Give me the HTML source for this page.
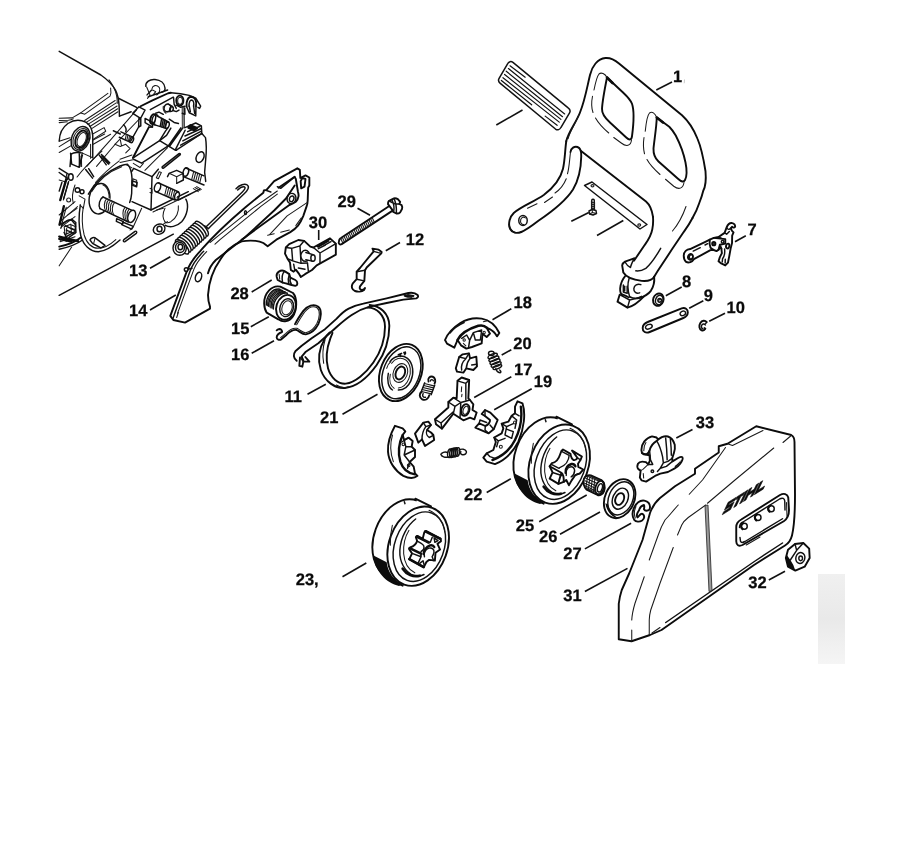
<!DOCTYPE html>
<html><head><meta charset="utf-8"><title>Parts diagram</title>
<style>
html,body{margin:0;padding:0;background:#fff;}
body{width:924px;height:844px;overflow:hidden;font-family:"Liberation Sans",sans-serif;}
svg{display:block;position:absolute;left:0;top:0;will-change:transform;}
svg *{vector-effect:non-scaling-stroke;}
.k{fill:none;stroke:#0c0c0c;stroke-width:1.9;stroke-linecap:round;stroke-linejoin:round;}
.m{fill:none;stroke:#111;stroke-width:1.45;stroke-linecap:round;stroke-linejoin:round;}
.t{fill:none;stroke:#1a1a1a;stroke-width:1.05;stroke-linecap:round;stroke-linejoin:round;}
.w{fill:#fff;}
.b{fill:#0c0c0c;}
.ld{fill:none;stroke:#111;stroke-width:1.6;stroke-linecap:butt;}
text{text-rendering:geometricPrecision;font-family:"Liberation Sans",sans-serif;font-weight:bold;font-size:16.5px;fill:#0a0a0a;stroke:#0a0a0a;stroke-width:0.25;text-anchor:middle;}
</style></head><body>
<svg width="924" height="844" viewBox="0 0 924 844">
<rect x="0" y="0" width="924" height="844" fill="#fff"/>
<!-- hand guard upper (tile 480,40 x4) -->
<g transform="translate(480,40) scale(0.25)">
<!-- outer outline -->
<path class="k" d="M345,405 C352,370 385,330 400,290 C420,240 428,190 440,140 C448,105 470,75 502,72 C525,70 542,82 556,94 L808,301 C840,330 860,370 870,395 C885,430 895,480 902,525 C905,560 900,590 893,603 C888,625 882,640 876,655 C868,680 860,695 850,712"/>
<!-- arm left edge -->
<path class="k" d="M345,405 C340,440 340,480 332,515 C322,555 295,590 255,620 C215,648 165,665 135,692 C118,708 112,735 120,755 C128,772 148,774 165,768"/>
<!-- arm right edge -->
<path class="k" d="M362,448 C364,432 378,424 390,428 C402,432 406,445 405,465 C404,520 395,560 372,598 C345,640 290,685 235,722 C205,745 185,760 165,768"/>
<path class="k" d="M403,443 L664,646 C678,658 688,680 692,707"/>
<!-- arm highlights -->
<path class="t" d="M362,448 C358,480 357,510 350,535"/>
<path class="t" d="M345,555 C335,580 318,600 300,612"/>
<path class="t" d="M290,628 L258,650 M228,655 L190,673"/>
<path class="m" d="M116,738 C118,752 126,764 140,770"/>
<!-- arm hole -->
<ellipse class="m" cx="172" cy="722" rx="17" ry="20"/>
<path class="t" d="M182,712 C176,706 166,708 163,718 C160,730 166,740 176,738"/>
<!-- window 1 inner bold -->
<path class="k" d="M508,150 C500,190 490,240 488,275 C487,295 500,312 520,330 L585,390 C598,402 606,400 608,385 C614,340 620,290 608,255 C600,235 585,222 570,208 Z"/>
<path class="k" d="M508,150 L530,172" style="stroke-width:2.6"/>
<!-- window 1 outer thin -->
<path class="t" d="M508,150 C500,135 485,128 476,136 C468,145 462,170 456,200"/>
<path class="t" d="M450,225 C446,245 445,270 452,290"/>
<path class="t" d="M462,312 C475,335 495,355 515,372"/>
<path class="t" d="M535,390 L565,412 C585,428 603,425 606,400"/>
<!-- window 2 inner bold -->
<path class="k" d="M707,310 C706,350 697,400 694,434 C693,460 702,475 714,486 L792,555 C806,568 815,570 820,560 C828,545 828,520 822,490 C815,455 800,415 783,382 C775,368 765,355 757,347 Z"/>
<path class="k" d="M707,310 L732,330" style="stroke-width:2.6"/>
<!-- window 2 outer thin -->
<path class="t" d="M707,310 C700,292 688,285 678,292 C668,302 664,335 661,365"/>
<path class="t" d="M656,390 C653,410 653,435 658,455"/>
<path class="t" d="M668,478 C680,500 700,520 720,538"/>
<path class="t" d="M742,557 L775,585 C795,600 812,595 816,570"/>
<!-- frame highlights -->
<path class="t" d="M824,666 C812,700 795,735 770,764"/>
<path class="t" d="M395,300 C380,335 360,365 352,395"/>
<!-- plate -->
<path class="m w" d="M418,582 L448,568 L668,738 L640,756 Z"/>
<ellipse class="t" cx="450" cy="583" rx="6" ry="4.5"/>
<ellipse class="t" cx="637" cy="740" rx="6" ry="4.5"/>
<!-- screw -->
<path class="m" d="M447,640 L447,678 M457,640 L457,678 M447,640 C449,636 455,636 457,640"/>
<path class="t" d="M445,648 L459,652 M445,656 L459,660 M445,664 L459,668 M445,672 L459,676"/>
<path class="m w" d="M436,684 L448,678 L464,682 L466,694 L452,700 L438,696 Z"/>
<path class="t" d="M448,678 L450,690 L466,694 M450,690 L438,696"/>
</g>
<!-- pad (tile 490,55 x9.24) -->
<g transform="translate(490,55) scale(0.108225)">
<path class="m w" d="M165,78 C175,60 195,56 212,68 L722,488 C740,502 745,518 735,535 L655,670 C645,690 625,698 605,684 L95,262 C78,248 74,232 84,215 Z" style="stroke-width:1.5"/>
<path class="m" d="M185,100 L325,205 M170,125 L690,545 M150,150 L670,570 M135,180 L655,595 M120,210 L640,620 M105,235 L385,460 M510,565 L620,650" style="stroke-width:1.2"/>
</g>
<!-- hand guard lower + parts 7-10 (tile 600,210 x6) -->
<g transform="translate(600,210) scale(0.166667)">
<!-- guard lower edges -->
<path class="k" d="M318,41 C320,70 318,95 314,115 C308,150 290,180 269,209 L204,304"/>
<path class="k" d="M555,48 C540,78 522,105 503,131 L432,236 L347,365 L325,400"/>

<path class="m" d="M364,230 C335,280 305,325 275,350 C255,362 235,368 215,365"/>
<!-- collar -->
<path class="k" d="M205,290 L150,310 C140,316 134,322 133,332 L140,375 C155,400 195,418 250,425 C285,428 315,418 325,400"/>
<path class="m" d="M205,290 C195,310 185,330 183,345 M150,312 C160,330 175,342 183,345"/>
<!-- knuckle -->
<path class="k" d="M150,398 C135,415 124,440 121,470 C120,490 125,505 135,512"/>
<path class="k" d="M325,400 C328,430 322,460 305,485 C290,505 265,520 235,528 C215,532 195,530 180,522"/>
<path class="m" d="M175,410 C165,440 165,480 178,520"/>
<path class="m" d="M140,450 L140,492 L163,500 L163,458"/>
<path class="m" d="M148,458 L148,486"/>
<path class="m" d="M245,448 C225,440 205,452 203,472 C201,492 218,504 238,497"/>
<path class="k" d="M118,508 L105,550 L165,586 C190,580 225,560 262,520"/>
<path class="m" d="M118,508 L178,540 L165,586 M178,540 C205,536 230,528 250,518"/>
<path class="b" d="M128,498 L160,512 L178,522 L172,530 L140,515 Z"/>
<!-- part 8 washer -->
<ellipse class="k w" cx="350" cy="538" rx="31" ry="38" transform="rotate(20 350 538)"/>
<ellipse class="m" cx="356" cy="540" rx="22" ry="29" transform="rotate(20 356 540)"/>
<circle class="m" cx="358" cy="542" r="11"/>
<path class="t" d="M364,536 C358,532 352,538 353,546"/>
<!-- part 9 link -->
<path class="k w" d="M286,672 L490,590 C510,583 528,595 527,615 C526,632 515,642 500,648 L298,732 C275,742 255,730 256,708 C257,690 270,678 286,672 Z"/>
<ellipse class="m" cx="293" cy="700" rx="21" ry="13" transform="rotate(-22 293 700)"/>
<ellipse class="m" cx="497" cy="620" rx="17" ry="13" transform="rotate(-22 497 620)"/>
<!-- part 10 e-clip -->
<path class="k" d="M640,672 C630,660 612,662 602,678 C592,695 595,715 610,722 C620,726 628,720 632,712"/>
<path class="m" d="M632,690 C626,680 615,682 610,692 C606,702 610,712 618,712"/>
<path class="m" d="M640,672 L634,682 M632,712 L626,706"/>
</g>
<!-- part 7 (tile 678,218 x14.8) -->
<g transform="translate(678,218) scale(0.06754)">
<path class="k w" d="M85,560 C85,500 130,465 180,460 L420,345 L470,320 L530,295 L600,282 L690,220 L720,140 C735,100 770,72 800,75 C830,80 850,105 845,130 C835,148 815,145 800,130 L780,152 L800,190 L822,212 L802,262 L800,370 L780,450 L760,560 L740,660 L700,702 L640,672 L600,640 L620,580 L650,520 L642,452 L620,440 L600,470 L570,490 L520,470 L480,476 L235,610 C210,650 160,672 120,650 C95,630 85,600 85,560 Z"/>
<path class="k" d="M470,320 C465,350 468,400 482,440 L520,470 M530,295 L700,312 L700,380 L620,396 L600,470 M620,396 L642,452"/>
<path class="m" d="M600,282 L640,300 M720,140 C735,170 760,180 780,152 M690,220 L720,240 L760,200"/>
<ellipse class="k" cx="185" cy="575" rx="36" ry="42" transform="rotate(20 185 575)"/>
<path class="m" d="M200,545 C180,540 165,560 168,585 C170,600 180,610 195,608"/>
<path class="m" d="M225,490 L330,440 M400,400 L440,380"/>
<circle class="k" cx="530" cy="380" r="24"/>
<circle class="t" cx="532" cy="382" r="12"/>
<circle class="m" cx="660" cy="350" r="19"/>
<ellipse class="k" cx="736" cy="415" rx="24" ry="36" transform="rotate(15 736 415)"/>
<path class="m" d="M690,460 C695,500 690,560 662,600 M660,600 L655,650 M700,610 L698,665"/>
</g>
<!-- engine block upper-left: fins, port (tile 50,75 x9.24) -->
<g transform="translate(50,75) scale(0.108225)">
<path class="m" d="M85,-219 L470,0 C520,35 575,85 605,140 C625,180 635,230 638,280 L642,380"/>
<path class="t" d="M545,45 C580,90 605,140 615,190 C620,215 622,240 622,260"/>
<path class="t" d="M285,350 L322,362 L555,195 C565,175 565,150 560,120"/>
<path class="t" d="M205,396 L290,346 L535,170"/>
<path class="t" d="M320,420 L602,236"/>
<path class="t" d="M335,438 L612,258"/>
<path class="t" d="M350,456 L620,286"/>
<path class="t" d="M368,476 L625,312"/>
<path class="t" d="M385,496 L628,340"/>
<path class="t" d="M395,545 L500,486 L515,520 L405,590"/>
<path class="t" d="M398,600 L505,545 M400,640 L560,548"/>
<path class="t" d="M85,400 L200,396 M85,420 L170,418 C190,416 205,410 215,404 M85,440 L160,432"/>
<path class="m" d="M642,380 L750,340 M632,215 L800,300"/>
<!-- port boss -->
<path class="m" d="M85,610 C88,540 120,480 165,448 C215,415 280,410 330,435 C365,455 390,495 395,560 L395,765"/>
<path class="t" d="M375,640 L375,770 M395,765 L300,722"/>
<ellipse class="m" cx="282" cy="590" rx="82" ry="118" transform="rotate(22 282 590)"/>
<ellipse class="t" cx="285" cy="592" rx="68" ry="102" transform="rotate(22 285 592)"/>
<ellipse class="k" cx="290" cy="594" rx="52" ry="84" transform="rotate(22 290 594)"/>
<ellipse class="t" cx="293" cy="596" rx="38" ry="68" transform="rotate(22 293 596)"/>
<path class="t" d="M85,612 L185,580 M85,662 L198,592 M85,716 L192,655"/>
<path class="m" d="M195,730 L185,845 M270,722 L276,845 M195,730 C220,715 270,712 300,722"/>
<path class="t" d="M290,735 L292,845"/>
<!-- long rim diagonals -->
<path class="t" d="M340,845 L560,600 L800,322"/>
<path class="t" d="M430,845 L600,642 L830,402"/>
<path class="m" d="M455,740 L520,830 M475,735 L545,820"/>
<!-- small stud -->
<path class="m" d="M655,525 L760,572 M640,575 L745,622"/>
<ellipse class="m" cx="755" cy="598" rx="16" ry="28" transform="rotate(18 755 598)"/>
<path class="t" d="M705,550 L695,598 M720,556 L710,604 M735,562 L725,610"/>
<path class="m" d="M585,515 L650,545 M680,460 C700,480 710,500 700,525"/>
<path class="t" d="M600,640 L650,660 L700,640 L740,680 L700,720 M650,600 L660,650"/>
</g>
<g transform="translate(50,40) scale(0.166667)">
<path class="m" d="M575,278 C572,252 598,234 630,237 C662,240 688,258 690,288 C692,302 684,312 670,313"/>
<path class="t" d="M612,292 C615,272 640,266 655,284 C664,300 656,320 640,330"/>
<path class="t" d="M580,282 L600,330 L585,350"/>
</g>
<!-- engine block lower (tile 50,160 x6) -->
<g transform="translate(50,160) scale(0.166667)">
<!-- long base line and left line -->
<path class="m" d="M55,812 L740,445"/>
<path class="t" d="M55,635 L130,522"/>
<!-- flange plate -->
<path class="m" d="M230,205 C270,135 340,70 420,36 C440,28 455,25 465,25 C480,40 490,70 492,110 L490,200 C488,225 484,240 478,255"/>
<path class="m" d="M182,270 C172,330 172,400 185,455 C200,510 240,550 290,550 C330,548 375,520 420,480"/>
<path class="t" d="M200,280 C190,340 192,400 205,450 C220,500 250,528 290,530 C325,530 360,510 395,478"/>
<path class="t" d="M250,190 C290,120 350,70 430,40"/>
<ellipse class="m" cx="297" cy="232" rx="62" ry="92" transform="rotate(8 297 232)"/>
<path class="t" d="M318,150 C345,160 358,200 355,240"/>
<!-- crank shaft -->
<path class="w" d="M305,232 L330,218 L495,300 L512,340 L490,378 L320,305 Z"/>
<path class="m" d="M318,222 L492,302 M300,292 L470,372"/>
<ellipse class="m w" cx="490" cy="338" rx="22" ry="38" transform="rotate(18 490 338)"/>
<path class="m" d="M318,222 C298,232 288,270 300,292"/>
<path class="t" d="M340,232 C322,250 322,288 335,308 M352,238 C334,256 334,294 347,314 M364,243 C346,261 346,299 359,319 M376,249 C358,267 358,305 371,325 M388,254 C370,272 370,310 383,330"/>
<path class="t" d="M450,284 C434,300 434,338 447,360 M462,290 C446,306 446,344 459,366 M474,296 C458,312 458,350 471,371"/>
<path class="m" d="M400,352 L440,370 L435,385 L398,368 Z M435,372 L500,398 L490,415 L430,388"/>
<path class="t" d="M550,290 L500,400 L480,420"/>
<!-- slot -->
<path class="m" d="M443,478 L510,428 C518,424 524,432 518,440 L450,490 C442,494 436,486 443,478 Z"/>
<!-- bottom tab -->
<path class="m" d="M240,480 C245,465 265,462 275,470 L330,512 L305,528 L255,500 Z"/>
<path class="t" d="M270,470 L262,500"/>
<path class="m" d="M214,57 L255,109 M232,52 L262,100"/>
<!-- left side bits -->
<path class="m" d="M55,50 L110,85 M55,75 L105,110"/>
<ellipse class="m" cx="125" cy="102" rx="14" ry="20"/>
<path class="t" d="M100,85 L95,115 M110,88 L105,118"/>
<path class="t" d="M95,125 L62,240 M110,135 L80,240 M55,120 L90,130"/>
<circle class="m" cx="165" cy="180" r="14"/>
<circle class="m" cx="192" cy="190" r="12"/>
<path class="t" d="M150,150 C135,190 130,230 140,260 M175,215 L210,235 L200,290 L180,270"/>
<circle class="t" cx="112" cy="240" r="12"/>
<path class="t" d="M55,330 L150,250 M60,370 L165,280 M70,400 L150,340"/>
<path class="m" d="M60,385 L130,355 L155,375 L150,430 L62,480"/>
<path class="t" d="M85,400 L125,385 L128,430 L90,448 Z M100,410 L100,445 M130,390 L155,400 M128,410 L152,420"/>
<path class="k" d="M55,520 C100,510 150,495 185,465"/>
<path class="m" d="M55,535 C105,525 155,510 195,480"/>
<path class="t" d="M60,490 L150,460"/>
<!-- housing lower -->
<path class="m" d="M490,70 L502,50 L612,100 L606,300 L492,250"/>
<path class="m" d="M612,100 L650,55 M606,300 L830,190"/>
<path class="t" d="M618,312 L840,205"/>
<path class="t" d="M497,112 L520,122 L520,156 L497,146 Z M600,170 L612,175 L612,200 L600,195"/>
<path class="t" d="M655,70 L668,75 L650,112 L638,106 Z"/>
<path class="t" d="M540,45 L560,20 M500,20 L540,45"/>
<!-- stud 3 -->
<path class="w" d="M645,140 L770,195 L755,238 L635,190 Z"/>
<path class="m" d="M652,138 L772,192 M632,188 L750,240"/>
<ellipse class="m" cx="645" cy="164" rx="18" ry="28" transform="rotate(18 645 164)"/>
<ellipse class="m" cx="762" cy="216" rx="13" ry="24" transform="rotate(18 762 216)"/>
<path class="t" d="M700,162 L688,212 M712,167 L700,217 M724,172 L712,222 M736,178 L724,228 M748,183 L736,233"/>
<!-- bracket & stud 4 -->
<path class="m" d="M705,100 L715,80 L760,62 L800,80 L800,120 L760,140"/>
<path class="t" d="M715,80 L760,100 L800,80 M760,100 L760,140"/>
<path class="m" d="M815,48 L924,95 M800,100 L924,150"/>
<ellipse class="m" cx="815" cy="72" rx="16" ry="26" transform="rotate(18 815 72)"/>
<path class="t" d="M862,70 L850,118 M874,75 L862,123 M886,80 L874,128 M898,85 L886,133 M910,90 L898,138"/>
<path class="t" d="M870,165 L900,182 M880,160 L908,176 M860,172 L890,190"/>
<path class="m" d="M770,240 L900,175"/>
<!-- ring lower right -->
<path class="m" d="M815,235 C835,270 825,330 790,370 C760,400 720,408 692,392"/>
<path class="t" d="M770,275 C775,310 758,350 725,370 C710,378 698,378 690,372"/>
<path class="t" d="M690,290 C675,320 675,350 690,372"/>
<ellipse class="m" cx="655" cy="415" rx="36" ry="30" transform="rotate(-25 655 415)"/>
<ellipse class="m" cx="657" cy="414" rx="15" ry="17"/>
<path class="t" d="M680,385 L705,370 M640,300 L680,290"/>
</g>
<!-- engine housing detail (tile 120,90 x9.24) -->
<g transform="translate(120,90) scale(0.108225)">
<!-- top edges -->
<path class="m" d="M118,215 L175,155 L232,185 L190,262 Z"/>
<path class="m" d="M175,262 L192,268 L192,332 L172,342 Z"/>
<path class="k" d="M190,150 L300,95 L445,30 L470,25"/>
<path class="m" d="M280,182 L492,66"/>
<path class="m" d="M250,45 L292,0 M262,62 L440,0"/>
<path class="t" d="M300,0 L330,15 L310,40"/>
<!-- upper right rings -->
<path class="m" d="M470,25 L560,35 L640,50 L700,75 L745,150 L735,170 L720,160"/>
<ellipse class="k" cx="553" cy="98" rx="33" ry="46"/>
<ellipse class="t" cx="555" cy="100" rx="22" ry="33"/>
<path class="k" d="M615,152 C610,100 630,62 660,62 C692,64 712,100 702,150"/>
<path class="m" d="M638,150 C636,115 646,92 662,92 C678,94 686,118 680,148"/>
<path class="m" d="M615,152 L640,210 L700,240 L702,150 M640,150 L650,200 M680,148 L690,215"/>
<path class="m" d="M495,70 L500,130 L520,170 M520,140 L560,160 L600,150"/>
<!-- small upper stud -->
<ellipse class="m" cx="438" cy="165" rx="30" ry="36" transform="rotate(15 438 165)"/>
<ellipse class="m" cx="476" cy="176" rx="16" ry="22" transform="rotate(15 476 176)"/>
<path class="m" d="M445,130 L485,152 M430,200 L470,198 M490,190 L520,200 L545,185"/>
<path class="t" d="M400,150 C395,175 405,200 425,215"/>
<!-- main stud 1 -->
<path class="m" d="M232,262 L300,300 L300,342 L232,302 Z"/>
<ellipse class="k" cx="305" cy="268" rx="24" ry="46" transform="rotate(15 305 268)"/>
<ellipse class="m" cx="325" cy="275" rx="28" ry="48" transform="rotate(15 325 275)"/>
<path class="w" d="M340,240 L450,300 L430,355 L325,318 Z"/>
<path class="m" d="M340,238 L452,298 M322,322 L425,355"/>
<ellipse class="m" cx="438" cy="326" rx="16" ry="30" transform="rotate(18 438 326)"/>
<path class="m" d="M385,264 L372,335 M400,272 L387,340 M415,280 L402,346 M430,288 L417,352"/>
<path class="m" d="M330,215 L360,205 L400,225 M455,270 L500,300 L540,310"/>
<!-- dark bar -->
<path d="M574,160 L594,165 L596,350 L576,352 Z" fill="#8a8a8a" stroke="#222" stroke-width="0.8"/>
<path class="m" d="M575,215 L600,225 L598,165"/>
<!-- wedge right with hatch -->
<path class="m" d="M600,348 L700,305 L752,332 L756,402 L520,556"/>
<path class="k" d="M640,335 L700,362 M650,325 L712,352 M632,348 L690,375" style="stroke-width:2.2"/>
<path class="m" d="M625,385 L740,335 M600,425 L748,358 M580,470 L752,380 M560,510 L756,402"/>
<!-- right edge -->
<path class="m" d="M756,402 L790,440 C800,500 800,560 792,640 L782,760 L792,845"/>
<ellipse class="m" cx="740" cy="620" rx="34" ry="52" transform="rotate(25 740 620)"/>
<!-- faces -->
<path class="k" d="M266,345 L120,626"/>
<path class="m" d="M172,342 L100,470 M300,342 L266,345"/>
<path class="m" d="M118,630 L366,468 L430,420 L470,352"/>
<path class="m" d="M366,468 L446,516 L200,676 L130,642"/>
<path class="m" d="M366,468 L420,380 L442,350"/>
<path class="m" d="M446,516 L562,350 M456,522 L576,356"/>
<path class="m" d="M446,516 L510,556 L522,556 M510,556 L602,372"/>
<path class="t" d="M440,532 L230,742"/>
<path class="m" d="M392,708 L545,588 C555,582 562,592 555,600 L402,722 C392,728 384,716 392,708 Z"/>
<path class="t" d="M0,640 L110,600 M0,670 L130,642 M60,690 L110,720"/>
</g>
<!-- engine extra left-lower detail (tile 50,150 x9.24) -->
<g transform="translate(50,150) scale(0.108225)">
<path class="m" d="M190,30 L200,130 L270,160 L275,60 M270,160 L300,45"/>
<path class="k" d="M150,272 L95,462" style="stroke-width:2.4"/>
<path class="m" d="M172,292 L126,452 M110,300 L85,380"/>
<path class="k" d="M128,520 L88,690" style="stroke-width:2.4"/>
<path class="t" d="M150,530 L105,700 M165,600 L250,540"/>
<path class="m" d="M100,722 C120,662 170,640 200,650 L236,690 L240,762 L182,802 L150,842"/>
<path class="m" d="M140,700 L226,740 M150,740 L230,772 M130,762 L160,822"/>
<path class="k" d="M85,800 L260,842 M85,822 L200,846" style="stroke-width:2.2"/>
<path class="t" d="M250,250 C300,180 380,100 480,10 M420,300 C480,230 560,160 640,100"/>
<path class="m" d="M470,60 L540,130 M485,52 L552,118"/>
<path class="m" d="M760,285 L805,300 L800,340 L758,325 Z"/>
</g>
<!-- spring 13 + brake lever 14 (tile 160,160 x6) -->
<g transform="translate(160,160) scale(0.166667)">
<!-- lever 14 body (white fill to hide engine lines behind) -->
<path class="k w" d="M62,935 L160,670 C175,630 200,590 240,548 C270,515 330,440 506,290 L513,283 L620,196 L623,183 L639,179 L685,127 L824,50 L839,59 L842,108 L873,92 L896,105 L896,153 L889,166 L886,244 C885,262 883,270 880,277 L860,335 C850,360 840,378 828,394 C815,410 800,422 782,433 L698,478 L646,517 L620,498 C605,490 590,486 574,485 C545,483 515,484 490,488 C460,500 435,515 412,535 C395,550 380,570 365,592 C320,655 292,740 288,810 C288,840 295,865 300,880 L300,892 L150,976 L80,960 Z"/>
<!-- rails -->
<path class="m" d="M78,950 L180,668 C195,625 225,585 262,548"/>
<path class="t" d="M105,920 L205,652 C220,615 245,585 280,550"/>
<path class="t" d="M100,945 L110,915"/>
<!-- thin parallels on top face -->
<path class="t" d="M300,495 L360,446 L555,290 L704,186"/>
<path class="t" d="M330,505 L360,478 L607,277 L704,205"/>
<path class="m" d="M639,183 L665,192 M704,160 L724,170 L808,101"/>
<!-- raised face -->
<path class="k" d="M711,166 L808,101 L815,114 L828,192 C832,205 832,212 831,218 C828,235 822,245 815,251 C802,260 790,265 776,270 L490,478"/>
<!-- groove edge -->
<path class="k" d="M808,153 L756,231 L685,303 L509,465 L335,600 C310,625 295,650 288,680"/>
<!-- circle -->
<ellipse class="m" cx="789" cy="231" rx="26" ry="31" transform="rotate(20 789 231)"/>
<ellipse class="m" cx="790" cy="233" rx="13" ry="18" transform="rotate(20 790 233)"/>
<!-- tab -->
<path class="k" d="M844,127 L854,108 L873,114 L867,160 L847,170 Z"/>
<!-- lower right face -->
<path class="t" d="M880,257 L763,335 L659,446"/>
<path class="t" d="M646,452 L685,442 M724,433 L776,420 M847,348 L815,394"/>
<ellipse class="m" cx="513" cy="316" rx="6" ry="11"/>
<ellipse class="m w" cx="231" cy="702" rx="18" ry="29" transform="rotate(18 231 702)"/>
<circle class="m w" cx="157" cy="657" r="11"/>
<path class="m" d="M168,655 L192,650"/>
<!-- spring 13 -->
<g>
<ellipse class="m w" cx="250" cy="412" rx="22" ry="56" transform="rotate(-42 250 412)"/>
<ellipse class="m w" cx="237" cy="424" rx="22" ry="56" transform="rotate(-42 237 424)"/>
<ellipse class="m w" cx="224" cy="436" rx="22" ry="56" transform="rotate(-42 224 436)"/>
<ellipse class="m w" cx="211" cy="448" rx="22" ry="56" transform="rotate(-42 211 448)"/>
<ellipse class="m w" cx="198" cy="460" rx="22" ry="56" transform="rotate(-42 198 460)"/>
<ellipse class="m w" cx="185" cy="472" rx="22" ry="56" transform="rotate(-42 185 472)"/>
<ellipse class="m w" cx="172" cy="484" rx="22" ry="56" transform="rotate(-42 172 484)"/>
<ellipse class="m w" cx="159" cy="496" rx="22" ry="56" transform="rotate(-42 159 496)"/>
<ellipse class="m w" cx="146" cy="508" rx="22" ry="56" transform="rotate(-42 146 508)"/>
<ellipse class="m w" cx="133" cy="520" rx="22" ry="56" transform="rotate(-42 133 520)"/>
<ellipse class="m w" cx="118" cy="528" rx="40" ry="44"/>
<ellipse class="m" cx="120" cy="525" rx="27" ry="30"/>
<ellipse class="m" cx="122" cy="522" rx="14" ry="16"/>
<path class="m" d="M268,395 L290,412 L304,398 L505,203 C528,182 538,162 524,150 C508,140 478,148 456,172"/>
<path class="m" d="M280,398 L294,384 L494,192 C510,176 514,166 508,162 C498,158 480,166 466,180"/>
</g>
</g>
<!-- parts 30,28,15,16,29,12 (tile 250,190 x6) -->
<g transform="translate(250,190) scale(0.166667)">
<!-- part 30 -->
<path class="k w" d="M240,435 L245,480 L262,490 L275,478 L292,500 L305,522 L330,505 L372,480 L400,452 L515,388 L515,322 L480,290 L380,345 L362,340 L325,305 L290,300 L235,325 L215,345 L210,382 L225,412 Z"/>
<path class="m" d="M380,345 L420,378 L515,322 M420,378 L420,440"/>
<path class="m" d="M215,345 L250,350 L300,335 L325,305 M250,350 L256,425 M300,335 L306,440 M256,425 L225,412 M256,425 L306,440 L345,438"/>
<ellipse class="m w" cx="332" cy="395" rx="27" ry="33"/>
<path class="m w" d="M335,375 L378,388 L378,428 L335,418"/>
<ellipse class="m w" cx="378" cy="408" rx="13" ry="20"/>
<path class="b" d="M398,338 L436,318 L446,326 L408,348 Z"/>
<path class="b" d="M432,318 L470,298 L480,306 L442,328 Z"/>
<path class="m" d="M410,352 L452,330 M445,332 L486,310"/>
<path class="m" d="M262,445 L268,478 M345,440 L350,485 M290,468 L330,475"/>
<!-- part 28 pin -->
<path class="k w" d="M160,520 C155,495 185,475 207,487 L236,505 L242,526 L272,540 C288,548 288,572 272,575 L250,570 L215,560 L196,556 L166,540 Z"/>
<path class="m" d="M207,487 C195,500 190,530 196,556 M236,505 C230,520 228,545 232,563 M242,526 C238,540 240,555 250,570"/>
<path class="t" d="M175,505 L178,535"/>
<!-- part 15 coil -->
<path class="k w" d="M85,682 C83,620 130,568 182,580 L258,618 C286,650 282,722 256,760 C236,790 200,797 170,776 L100,736 C90,722 86,700 85,682 Z"/>
<ellipse class="k" cx="216" cy="704" rx="58" ry="76" transform="rotate(18 216 704)"/>
<ellipse class="m" cx="220" cy="706" rx="40" ry="55" transform="rotate(18 220 706)"/>
<ellipse class="t" cx="222" cy="707" rx="30" ry="43" transform="rotate(18 222 707)"/>
<path class="m" d="M98,690 C96,635 135,588 180,595 M112,698 C110,643 150,596 195,603 M126,706 C124,651 165,604 210,611 M140,714 C138,659 180,612 225,619"/>
<path class="t" d="M105,694 C103,639 142,592 187,599 M119,702 C117,647 157,600 202,607 M133,710 C131,655 172,608 217,615"/>
<!-- part 29 screw -->
<path class="k" d="M534,308 C528,320 538,330 550,325 L858,122 M534,308 C534,296 540,290 548,287 L838,94"/>
<path class="t" d="M545,292 L556,316 M555,286 L566,310 M565,279 L576,303 M575,273 L586,297 M585,266 L596,290 M595,260 L606,284 M605,253 L616,277 M615,247 L626,271 M625,240 L636,264 M635,234 L646,258 M645,227 L656,251 M655,221 L666,245 M665,214 L676,238 M675,208 L686,232 M685,201 L696,225 M695,195 L706,219 M705,188 L716,212 M715,182 L726,206 M725,175 L736,199 M735,169 L746,193"/>
<path class="k w" d="M828,85 C828,72 832,66 837,64 L864,50 C875,48 882,52 887,55 L901,71 L896,84 L910,91 C914,98 914,108 912,114 L901,134 C895,140 885,142 878,141 L860,132 L855,121 Z"/>
<path class="m" d="M864,52 C874,72 880,104 878,139 M852,60 C862,80 866,108 862,130 M840,68 C855,80 875,86 896,84"/>
<!-- part 12 lever -->
<path class="k w" d="M735,352 L772,358 L790,372 L788,380 L700,465 L690,482 L686,545 L662,575 C655,585 658,598 670,600 C680,600 686,594 690,588 L684,600 C670,612 645,612 630,606 C612,600 605,580 617,560 L640,535 L640,490 L660,468 L742,368 Z"/>
<path class="m" d="M742,368 L770,376 L788,380 M640,535 L686,545 M640,490 L690,482"/>
</g>
<!-- band 11, clip 16 lower, disc 21 (tile 270,290 x6) -->
<g transform="translate(270,290) scale(0.166667)">
<!-- band loop -->
<path class="k" d="M598,90 C660,95 715,140 716,215 C716,300 690,380 640,450 C590,520 520,580 450,588 C390,592 330,550 305,480 C285,420 295,350 330,290 C340,272 350,262 358,255"/>
<path class="k" d="M585,106 C640,105 690,150 690,220 C690,300 665,370 620,435 C575,500 510,555 455,562 C410,565 365,530 348,470 C335,420 340,350 362,290 L375,258"/>
<path class="t" d="M398,570 C420,585 445,590 470,580 M330,300 C318,340 315,400 322,440"/>
<!-- strap -->
<path class="k" d="M160,425 C140,410 138,385 152,368 L190,335 L250,290 L330,235 L400,172 C425,145 445,125 472,112 C500,98 530,88 560,82 L700,50 L830,18 C850,14 875,20 886,30 C892,38 888,46 878,50 L800,58 L700,78 L598,100 C560,110 520,130 490,150 C460,170 430,195 400,222 L290,320 L215,370 L190,400 L200,422"/>
<path class="b" d="M800,34 C815,26 850,26 866,32 C870,38 860,44 845,46 C830,48 808,44 800,34 Z"/>
<path class="t" d="M812,28 L850,44 M825,26 L860,40"/>
<path class="k" d="M180,405 L176,455 L194,460 L200,430 L236,430 L212,402"/>
<path class="m" d="M200,430 L186,410"/>
<!-- clip 16 lower -->
<path class="k" d="M150,205 C160,185 175,160 200,125 C225,95 262,80 290,100 C312,118 308,165 290,205 C275,235 250,260 215,266 C195,268 180,250 160,240 C140,236 120,248 100,268 L68,296 C55,302 40,298 40,285 C40,270 55,258 72,252 C75,246 68,236 58,234 C50,234 44,238 40,242"/>
<path class="t" d="M160,208 C170,190 185,165 208,132 C230,105 260,92 284,108 C302,124 298,165 282,200 C268,228 246,250 215,256 C198,258 185,242 162,230 C140,225 115,240 95,260 L64,286"/>
<!-- disc 21 -->
<ellipse class="k w" cx="785" cy="495" rx="122" ry="178" transform="rotate(22 785 495)"/>
<ellipse class="m" cx="788" cy="497" rx="108" ry="162" transform="rotate(22 788 497)"/>
<path class="m" d="M720,430 C745,395 790,385 825,410 C860,440 865,500 845,545 C830,580 800,600 770,600"/>
<path class="m" d="M735,600 C710,585 700,540 710,500"/>
<path class="t" d="M730,440 C750,410 785,400 815,420 C845,445 850,495 832,535 C820,565 795,585 770,588"/>
<path class="t" d="M745,590 C722,575 714,540 722,505"/>
<ellipse class="k" cx="782" cy="498" rx="27" ry="40" transform="rotate(22 782 498)"/>
<ellipse class="t" cx="782" cy="498" rx="42" ry="58" transform="rotate(22 782 498)"/>
<path class="b" d="M765,385 L790,375 L795,383 L785,388 L790,400 L780,404 L776,392 L768,395 Z M798,372 L815,368 L818,380 L810,395 L803,385 Z"/>
<path class="t" d="M700,470 C705,450 715,438 725,430"/>
</g>
<!-- clutch upper: shoe 18, retainer, springs (tile 400,290 x6) -->
<g transform="translate(400,290) scale(0.166667)">
<!-- shoe 18 top -->
<path class="k w" d="M270,300 C285,262 320,225 362,198 C400,175 445,165 490,172 C535,180 575,215 596,258 L582,278 C570,255 550,238 520,226 L540,262 L520,282 L495,262 L490,320 L432,342 L398,352 L366,332 L345,300 L326,346 L282,322 Z"/>
<path class="k" d="M345,300 C362,268 405,235 470,215 C490,210 508,214 520,226" style="stroke-width:2.6"/>
<path class="m" d="M370,290 L400,270 L418,302 L440,256 L490,240 L482,300 M418,302 L412,340 M440,256 L452,300 L482,300"/>
<path class="m" d="M300,258 C320,232 350,210 385,195"/>
<circle class="t" cx="385" cy="300" r="7"/>
<circle class="t" cx="505" cy="255" r="7"/>
<path class="t" d="M500,190 L520,186 M380,320 L395,335"/>
<!-- retainer 19 top -->
<path class="k w" d="M335,470 L355,402 L376,386 L414,380 L420,410 L458,400 L462,458 L440,480 L398,470 L380,496 L342,490 Z"/>
<path class="m" d="M355,402 L395,412 L414,380 M395,412 C375,430 365,455 370,480 M420,410 C405,430 398,450 398,470 M430,450 L460,445"/>
<!-- spring 20 -->
<g class="m">
<ellipse cx="548" cy="380" rx="17" ry="13"/>
<ellipse cx="556" cy="396" rx="30" ry="12" transform="rotate(-22 556 396)"/>
<ellipse cx="563" cy="413" rx="32" ry="12" transform="rotate(-22 563 413)"/>
<ellipse cx="570" cy="430" rx="32" ry="12" transform="rotate(-22 570 430)"/>
<ellipse cx="577" cy="447" rx="32" ry="12" transform="rotate(-22 577 447)"/>
<ellipse cx="584" cy="462" rx="28" ry="11" transform="rotate(-22 584 462)"/>
<path d="M575,472 C578,485 588,495 600,497 C608,496 606,486 598,480"/>
</g>
</g>
<!-- clutch lower: hub 17, shoes, retainers (tile 370,380 x6) -->
<g transform="translate(370,380) scale(0.166667)">
<!-- hub 17 -->
<path class="k w" d="M525,5 L550,-15 L595,0 L590,110 L600,120 L620,146 L615,180 L640,195 L626,236 L600,226 L560,242 L500,202 L432,292 L396,266 L390,236 L470,165 L470,132 L500,106 L520,110 Z"/>
<path class="m" d="M525,5 L575,20 L595,0 M575,20 L575,118 M500,106 L545,135 L600,120 M545,135 L540,228 M470,132 L510,158 L545,135 M510,158 L500,202 M390,236 L426,258 L432,292 M426,258 L500,190"/>
<path class="t" d="M550,40 L548,70 M552,85 L550,100"/>
<ellipse class="k" cx="572" cy="180" rx="24" ry="36" transform="rotate(18 572 180)"/>
<ellipse class="t" cx="574" cy="182" rx="15" ry="25" transform="rotate(18 574 182)"/>
<!-- retainer left -->
<path class="k w" d="M270,322 L320,256 L350,250 L366,270 L342,300 L366,315 L380,330 L385,360 L330,396 L312,356 L290,376 Z"/>
<path class="m" d="M320,256 L335,280 L366,270 M335,280 C320,300 312,330 312,356 M342,300 C335,315 340,335 355,345 M355,345 L380,332"/>
<!-- retainer right -->
<path class="k w" d="M690,180 L722,196 L766,240 L742,296 L712,320 L632,286 L655,260 L692,276 C712,268 722,250 720,240 L690,216 L670,204 Z"/>
<path class="m" d="M690,216 L690,180 M692,276 L690,300 L712,320 M655,260 L660,240 L700,255 M742,296 L720,270"/>
<!-- shoe left -->
<path class="k w" d="M150,275 C125,320 105,380 108,430 C112,490 150,545 200,575 C230,590 262,595 285,575 L270,560 L262,520 L238,492 L270,462 L270,420 L250,400 L256,366 L232,346 L205,360 L196,330 L212,308 L196,290 Z"/>
<path class="k" d="M196,330 C175,375 165,430 182,490 C195,530 225,560 270,566" style="stroke-width:2.4"/>
<path class="m" d="M190,372 L232,346 M205,360 L215,400 L250,400 M215,400 L205,450 L238,492 M205,450 L270,420 M238,492 L225,530"/>
<path class="t" d="M135,330 C120,380 122,440 140,490"/>
<circle class="t" cx="200" cy="386" r="8"/>
<circle class="t" cx="232" cy="512" r="8"/>
<!-- shoe right -->
<path class="k w" d="M885,128 L915,140 C935,200 925,290 890,370 C860,430 810,480 750,505 L700,490 L680,466 L700,440 L740,420 L755,372 L745,345 L790,320 L800,290 L790,262 L830,250 L850,215 L870,200 L870,160 Z"/>
<path class="k" d="M905,160 C915,230 900,300 870,360 C840,420 790,460 735,480" style="stroke-width:2.4"/>
<path class="m" d="M790,262 L820,280 L860,262 M820,280 L810,330 L850,350 L860,310 L820,295 M745,345 L770,365 L810,350 M770,365 L760,400 M700,440 L720,460 L750,470"/>
<path class="m" d="M870,200 L895,215 M850,215 L880,240 L870,290"/>
<circle class="t" cx="870" cy="255" r="9"/>
<circle class="t" cx="785" cy="400" r="9"/>
<!-- spring bottom -->
<g class="m">
<path d="M425,445 C430,460 450,468 470,462"/>
<ellipse cx="478" cy="440" rx="12" ry="26" transform="rotate(10 478 440)"/>
<ellipse cx="490" cy="438" rx="12" ry="28" transform="rotate(10 490 438)"/>
<ellipse cx="502" cy="436" rx="12" ry="28" transform="rotate(10 502 436)"/>
<ellipse cx="514" cy="434" rx="12" ry="28" transform="rotate(10 514 434)"/>
<ellipse cx="526" cy="432" rx="12" ry="26" transform="rotate(10 526 432)"/>
<path d="M535,420 C550,410 572,415 578,428 C582,440 570,450 555,448 C545,446 540,438 545,430"/>
<path d="M430,440 C440,432 455,430 466,435"/>
</g>
</g>
<!-- spring left (tile 376,338 x12.98) -->
<g transform="translate(376,338) scale(0.07704)">
<path class="k" d="M682,565 C665,525 700,492 737,503 C768,514 778,560 760,592"/>
<path class="m" d="M706,558 C710,536 736,534 746,556"/>
<path class="t" d="M628,590 L752,622 M618,616 L746,648 M608,642 L738,674 M598,668 L728,700 M590,694 L718,726" style="stroke-width:1.15"/>
<path class="m" d="M632,582 L586,702 M762,612 L716,736"/>
<path class="k" d="M592,700 C560,720 558,772 600,796 C640,816 682,790 692,742"/>
<path class="m" d="M612,722 C596,746 610,776 642,770"/>
</g>
<!-- drum 22, bearing 25, washer 26, clip 27 (tile 500,400 x6) -->
<g transform="translate(500,400) scale(0.166667)">
<g>
<!-- back rim -->
<ellipse class="k w" cx="265" cy="342" rx="175" ry="245" transform="rotate(20 265 342)"/>
<path class="w" d="M350,102 L445,150 L280,625 L175,578 Z"/>
<path class="k" d="M338,100 L432,146 M170,578 L262,622"/>
<!-- dark band -->
<path class="b" d="M84,440 L166,482 C172,540 210,592 262,614 L240,624 C165,608 98,540 84,440 Z"/>
<!-- front rim -->
<ellipse class="k w" cx="355" cy="385" rx="175" ry="245" transform="rotate(20 355 385)"/>
<ellipse class="m" cx="362" cy="388" rx="148" ry="215" transform="rotate(20 362 388)"/>
<path class="m" d="M340,222 C290,260 250,330 245,410 C242,480 275,540 330,562 C350,568 372,565 390,555"/>
<path class="t" d="M300,290 C275,330 265,380 268,430 C272,480 295,525 335,545"/>
<path class="k" d="M262,520 C285,555 325,572 365,562" style="stroke-width:2.6"/>
<path class="m" d="M272,118 L276,130"/>
<path class="t" d="M200,260 C190,300 186,340 188,380 M420,170 C470,190 505,240 515,300"/>
</g>
</g>
<!-- sprocket 22 (tile 535,435 x15.35) -->
<g transform="translate(535,435) scale(0.06515)">
<path class="k w" d="M405,245 L430,222 L545,290 C550,330 565,370 595,385 C620,390 640,375 650,350 L570,240 L720,330 L700,380 L660,440 L665,490 L740,530 L690,590 L620,615 L560,700 L520,770 L480,690 L440,720 L360,750 L225,670 L270,575 L225,480 L260,432 C310,425 360,380 385,300 Z"/>
<path class="k" d="M225,480 L405,580 L370,700 L360,750 M405,580 C430,600 445,640 440,720" />
<path class="m" d="M250,450 L370,512 M415,256 L525,312 C520,390 470,470 380,500 M270,575 L410,622"/>
<path class="k" d="M470,580 C465,520 500,465 560,445 C590,440 610,455 620,480" style="stroke-width:2.4"/>
<path class="m" d="M480,620 C470,560 495,505 540,490 C580,480 610,510 608,550 C605,590 585,625 555,642"/>
<path class="m" d="M570,240 L585,260 M650,350 L700,380 M620,615 C640,600 665,592 690,590"/>
</g>
<g transform="translate(500,400) scale(0.166667)">
<!-- bearing 25 -->
<path class="k w" d="M503,475 C510,455 530,448 545,452 L608,480 C625,495 632,520 625,545 C618,565 600,575 585,570 L520,538 C503,525 498,495 503,475 Z"/>
<ellipse class="k" cx="598" cy="525" rx="25" ry="42" transform="rotate(18 598 525)"/>
<ellipse class="m" cx="600" cy="527" rx="14" ry="26" transform="rotate(18 600 527)"/>
<path class="t" d="M515,470 L580,500 M510,485 L575,515 M508,500 L572,530 M510,515 L572,545 M515,528 L578,556 M525,458 L595,488 M540,455 L605,485"/>
<path class="t" d="M525,460 L515,530 M540,455 L530,540 M555,460 L545,548 M570,466 L560,555"/>
<!-- washer 26 -->
<ellipse class="k w" cx="718" cy="592" rx="88" ry="122" transform="rotate(24 718 592)"/>
<path class="b" d="M632,620 C640,670 672,705 715,712 C690,700 655,665 648,625 Z"/>
<ellipse class="m" cx="725" cy="590" rx="72" ry="104" transform="rotate(24 725 590)"/>
<ellipse class="m" cx="722" cy="592" rx="45" ry="66" transform="rotate(24 722 592)"/>
<ellipse class="k" cx="718" cy="594" rx="25" ry="37" transform="rotate(24 718 594)"/>
</g>
<!-- e-clip 27 (tile 625,490 x22.8) -->
<g transform="translate(625,490) scale(0.04386)">
<path class="k w" d="M570,400 C575,330 530,265 440,242 C350,230 260,300 210,400 C170,480 160,600 210,680 C250,730 330,735 390,695 C430,665 445,610 425,570 C410,545 380,540 360,550 C340,565 320,590 285,625 C265,600 268,560 285,520 C300,490 325,470 332,430 C345,390 385,355 432,342 C445,370 440,410 432,440 C450,470 500,478 540,460 C560,445 568,425 570,400 Z"/>
<path class="t" d="M250,380 C215,450 205,560 235,640"/>
</g>
<!-- drum 23 (copy of drum 22 rim shifted) -->
<g transform="translate(359,482) scale(0.166667)">
<g>
<!-- back rim -->
<ellipse class="k w" cx="265" cy="342" rx="175" ry="245" transform="rotate(20 265 342)"/>
<path class="w" d="M350,102 L445,150 L280,625 L175,578 Z"/>
<path class="k" d="M338,100 L432,146 M170,578 L262,622"/>
<!-- dark band -->
<path class="b" d="M84,440 L166,482 C172,540 210,592 262,614 L240,624 C165,608 98,540 84,440 Z"/>
<!-- front rim -->
<ellipse class="k w" cx="355" cy="385" rx="175" ry="245" transform="rotate(20 355 385)"/>
<ellipse class="m" cx="362" cy="388" rx="148" ry="215" transform="rotate(20 362 388)"/>
<path class="m" d="M340,222 C290,260 250,330 245,410 C242,480 275,540 330,562 C350,568 372,565 390,555"/>
<path class="t" d="M300,290 C275,330 265,380 268,430 C272,480 295,525 335,545"/>
<path class="k" d="M262,520 C285,555 325,572 365,562" style="stroke-width:2.6"/>
<path class="m" d="M272,118 L276,130"/>
<path class="t" d="M200,260 C190,300 186,340 188,380 M420,170 C470,190 505,240 515,300"/>
</g>
</g>
<!-- sprocket 23 (tile 395,515 x15.35) -->
<g transform="translate(395,515) scale(0.06515)">
<path class="k w" d="M450,265 L475,245 L700,362 L706,402 L652,442 L692,530 L622,580 L612,700 L562,692 L520,690 L482,722 L452,782 L440,800 L350,750 L220,678 L262,590 L215,520 L240,495 C290,480 320,450 340,400 L320,340 L345,320 L425,365 Z"/>
<path class="k" d="M465,252 L695,366 M332,330 L520,422 M225,508 L400,592 M220,678 L440,800" style="stroke-width:2.6"/>
<path class="m" d="M425,365 L500,422 L542,420 L572,342 M400,592 L400,640 L350,750 M262,590 L400,640 M340,400 C380,420 420,440 440,470 C450,500 440,540 400,560"/>
<path class="k" d="M440,600 C445,540 480,490 540,466 C570,460 592,470 602,492" style="stroke-width:2.4"/>
<path class="m" d="M452,642 C436,590 460,530 520,508 C570,495 605,530 598,575 C594,605 580,625 570,640 C580,665 590,685 592,700"/>
<path class="m" d="M600,350 L660,392 L612,420 Z M380,742 L430,702 L452,782"/>
</g>
<!-- grey rectangle -->
<defs><linearGradient id="gg" x1="0" y1="0" x2="0" y2="1"><stop offset="0" stop-color="#f0f0f0"/><stop offset="0.5" stop-color="#e9e9e9"/><stop offset="1" stop-color="#f5f5f5"/></linearGradient></defs>
<rect x="818" y="574" width="27" height="90" fill="url(#gg)"/>
<!-- cover 31, part 33, nut 32 (tile 610,420 x4) -->
<g transform="translate(610,420) scale(0.25)">
<path class="k w" d="M585,25 L725,60 C735,65 738,75 738,88 L740,300 C740,360 738,420 728,462 C722,485 712,495 700,502 L576,580 L206,840 L160,860 L86,885 L35,877 L35,735 C38,710 42,695 47,680 L77,613 L130,480 L160,372 C170,345 185,325 200,312 L260,265 L340,215 L340,195 L435,130 L435,105 L470,95 Z"/>
<!-- inner lines -->
<path class="t" d="M470,95 L490,102 L612,42"/>
<path class="t" d="M725,62 L692,90 M655,112 L500,240 L390,333"/>
<path class="t" d="M462,110 L370,240 L317,297"/>
<path class="t" d="M273,340 C250,365 235,385 220,400 C208,420 200,440 193,460 L157,560"/>
<path class="t" d="M137,627 L100,733 C92,760 88,780 87,800 M87,840 L87,885"/>
<path class="t" d="M383,340 L313,390 C300,400 292,410 287,420 L270,460"/>
<path class="t" d="M253,510 L200,653 L163,760 C159,775 157,790 157,800 L157,860"/>
<path class="m" d="M223,810 L576,567 L690,492"/>
<path class="t" d="M168,852 L200,830"/>
<!-- divider -->
<path d="M380,342 L392,340 L408,682 L396,686 Z" fill="#9a9a9a" stroke="#222" stroke-width="0.8"/>
<!-- slot window -->
<path class="k" d="M505,428 C505,415 512,405 525,398 L680,300 C695,292 710,295 713,310 L716,360 C716,380 710,395 695,405 L530,500 C515,507 505,500 505,485 Z"/>
<path class="m" d="M518,430 C518,420 524,412 532,408 L680,315 C690,310 698,314 699,324 L700,360 M520,470 L522,485 C525,492 532,490 540,486 L690,395"/>
<path class="t" d="M706,330 L708,385 M545,500 L600,468"/>
<circle class="m" cx="537" cy="425" r="12"/>
<circle class="m" cx="592" cy="390" r="12"/>
<circle class="m" cx="645" cy="355" r="12"/>
<path class="k" d="M530,436 C522,430 523,417 532,413 M585,401 C577,395 578,382 587,378 M638,366 C630,360 631,347 640,343" style="stroke-width:2.2"/>
<!-- STIHL logo -->
<g transform="translate(449,379) matrix(0.806,-0.504,-0.42,0.889,0,0)" style="stroke:#0c0c0c;stroke-width:0.6;stroke-linejoin:miter">
<path class="b" d="M0,0 L41,0 L41,-35 L13,-35 L13,-42 L41,-42 L41,-56 L0,-56 L0,-21 L28,-21 L28,-14 L0,-14 Z"/>
<path class="b" d="M45,-56 L82,-56 L82,-42 L70,-42 L70,0 L57,0 L57,-42 L45,-42 Z"/>
<path class="b" d="M86,0 L99,0 L99,-56 L86,-56 Z"/>
<path class="b" d="M105,0 L118,0 L118,-21 L140,-21 L140,0 L153,0 L153,-56 L140,-56 L140,-35 L118,-35 L118,-56 L105,-56 Z"/>
<path class="b" d="M159,0 L203,0 L203,-14 L172,-14 L172,-56 L159,-56 Z"/>
</g>
</g>
<!-- nut 32 (tile 770,540 x6) -->
<g transform="translate(770,540) scale(0.166667)">
<path class="k w" d="M95,108 L108,58 L150,24 L200,18 L235,52 L238,108 L208,160 L152,184 L108,160 Z"/>
<path class="b" d="M95,108 L100,88 L122,120 L140,150 L152,184 L108,160 Z"/>
<path class="m" d="M150,24 L160,62 L122,120 M160,62 L200,18"/>
<ellipse class="m" cx="182" cy="108" rx="27" ry="33" transform="rotate(15 182 108)"/>
<ellipse class="m" cx="184" cy="110" rx="11" ry="14"/>
</g>
<!-- part 33 (tile 630,425 x13.19) -->
<g transform="translate(630,425) scale(0.07584)">
<path class="k w" d="M150,330 C148,250 210,168 290,150 L350,165 L372,190 L420,160 C450,148 480,146 500,152 C540,165 575,210 590,260 C595,300 590,340 580,365 L556,440 L560,480 L640,432 C660,422 685,420 692,428 C700,440 690,470 662,510 C640,540 615,558 590,572 L500,620 L400,642 L330,672 L212,746 L152,730 L130,692 L140,602 L110,582 C95,565 92,540 105,510 C120,485 165,478 210,490 L240,520 L262,470 L258,400 C250,395 235,392 220,392 C195,392 170,385 158,370 Z"/>
<path class="k" d="M160,370 C200,395 240,392 258,335 C270,290 300,240 352,210 L372,190"/>
<path class="m" d="M352,210 C385,260 410,330 430,420 L440,500 L500,480 L556,440 M258,335 L270,460 L300,520 L240,520 M440,500 L400,570 L362,612 M400,570 L480,545 L560,480"/>
<path class="m" d="M470,170 C480,260 488,360 490,460 M532,185 C540,260 545,330 545,400"/>
<path class="t" d="M210,230 C190,260 180,300 182,340 M140,602 L170,585 L240,520 M175,640 L180,700"/>
<circle class="m" cx="295" cy="610" r="17"/>
<path class="b" d="M590,540 C620,520 650,490 670,460 C665,500 630,540 590,560 Z"/>
</g>
<!-- labels and leaders -->
<g id="leaders">
<path class="ld" d="M665.8,295.8 L681.7,287"/>
<path class="ld" d="M689.2,308.3 L703.3,300.8"/>
<path class="ld" d="M709.2,321.3 L725,313.3"/>
<path class="ld" d="M735,241.7 L745.8,235.8"/>
<path class="ld" d="M571.3,221.3 L588.8,212.5"/>
<path class="ld" d="M597,235.5 L623.3,220.5"/>
<path class="ld" d="M656.3,90 L672,82"/>
<path class="ld" d="M496.3,125 L522.5,110"/>
<path class="ld" d="M150,268.3 L170.3,256.7"/>
<path class="ld" d="M150,310 L175.8,295"/>
<path class="ld" d="M251.7,292 L271.7,280"/>
<path class="ld" d="M250.8,326.7 L268.8,316.7"/>
<path class="ld" d="M251.7,353.3 L274,340.8"/>
<path class="ld" d="M357.5,208.3 L370,215.3"/>
<path class="ld" d="M318.7,230 L318.7,240"/>
<path class="ld" d="M385.8,250.8 L400,242.5"/>
<path class="ld" d="M307.5,394.2 L325.8,384.2"/>
<path class="ld" d="M342.5,414.2 L377.5,394.2"/>
<path class="ld" d="M492.5,319.7 L511.3,308.7"/>
<path class="ld" d="M501.7,355 L511.3,349.7"/>
<path class="ld" d="M474.2,397.5 L511.3,376.7"/>
<path class="ld" d="M494.2,409.7 L531.7,388.7"/>
<path class="ld" d="M486.7,492.5 L510.8,478.8"/>
<path class="ld" d="M539.2,521.7 L586.7,495"/>
<path class="ld" d="M560,534.2 L600,512"/>
<path class="ld" d="M584.9,548.9 L631.1,523.3"/>
<path class="ld" d="M342.5,576.7 L366.3,563"/>
<path class="ld" d="M584.9,591.5 L627.5,568.4"/>
<path class="ld" d="M676.3,438 L692.5,429.5"/>
<path class="ld" d="M768.8,580 L785,571.3"/>
</g>
<g id="labels">
<text x="677.5" y="81.91">1</text>
<text x="752" y="235.10">7</text>
<text x="686.7" y="286.90">8</text>
<text x="708.3" y="300.60">9</text>
<text x="735.8" y="312.60">10</text>
<text x="346.7" y="207.30">29</text>
<text x="318" y="227.60">30</text>
<text x="414.9" y="244.60">12</text>
<text x="138.3" y="275.90">13</text>
<text x="138.3" y="315.90">14</text>
<text x="239.6" y="299.10">28</text>
<text x="240.3" y="334.29">15</text>
<text x="240.3" y="360.10">16</text>
<text x="522.8" y="308.40">18</text>
<text x="522.5" y="349.30">20</text>
<text x="523.3" y="375.10">17</text>
<text x="543" y="387.30">19</text>
<text x="293.3" y="402.30">11</text>
<text x="329.2" y="423.40">21</text>
<text x="473.3" y="500.10">22</text>
<text x="705" y="427.60">33</text>
<text x="525" y="530.91">25</text>
<text x="548.3" y="541.80">26</text>
<text x="572.4" y="559.10">27</text>
<text x="318.7" y="585.10" style="text-anchor:end">23,</text>
<text x="572.4" y="601.00">31</text>
<text x="757.5" y="588.10">32</text>
</g>
<!-- faint mark --><path d="M684,79.5 L684.8,79.5 L684.6,83 L683.8,83.6 Z" fill="#b8b8b8"/>
</svg>
</body></html>
